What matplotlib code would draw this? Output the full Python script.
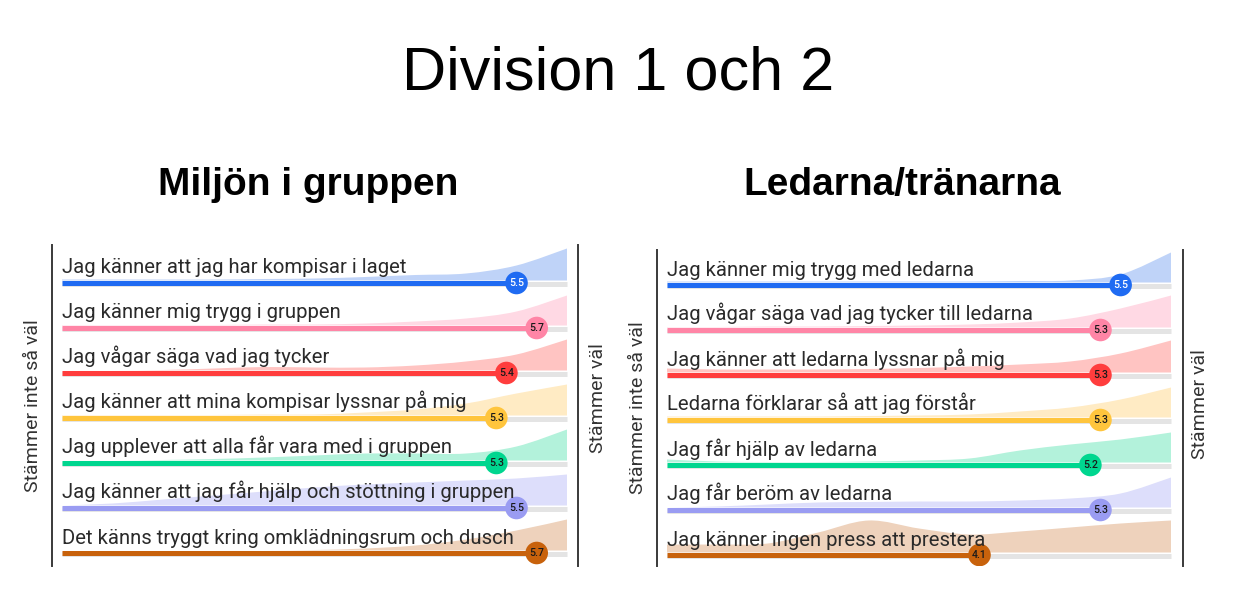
import matplotlib
matplotlib.use('Agg')
import matplotlib.pyplot as plt
from matplotlib.path import Path
from matplotlib.patches import PathPatch

# Data (scale 1-6)
grid = [1, 1.5, 2, 2.5, 3, 3.5, 4, 4.5, 5, 5.5, 6]

left_labels = ['Jag känner att jag har kompisar i laget',
               'Jag känner mig trygg i gruppen',
               'Jag vågar säga vad jag tycker',
               'Jag känner att mina kompisar lyssnar på mig',
               'Jag upplever att alla får vara med i gruppen',
               'Jag känner att jag får hjälp och stöttning i gruppen',
               'Det känns tryggt kring omklädningsrum och dusch']
left_values = [5.5, 5.7, 5.4, 5.3, 5.3, 5.5, 5.7]
# answer distribution height (px) at each grid point
left_dist = [[1, 1, 1, 1, 1.5, 2, 3.5, 5.5, 7, 15, 32],
             [0.5, 0.5, 0.5, 0.5, 1, 1, 2, 4, 7, 14, 30],
             [0, 0, 0.5, 2, 3.5, 3, 3, 5, 9, 16, 31],
             [0.5, 0.5, 0.5, 0.5, 1, 1, 3, 6, 12, 22, 31],
             [0, 0, 0.5, 1.5, 3, 5, 7, 7, 7, 14, 31],
             [0, 2, 6, 10, 14, 18, 21, 23, 25, 27, 31],
             [0, 0, 0, 0, 0, 0.5, 2, 5, 11, 20, 31]]

right_labels = ['Jag känner mig trygg med ledarna',
                'Jag vågar säga vad jag tycker till ledarna',
                'Jag känner att ledarna lyssnar på mig',
                'Ledarna förklarar så att jag förstår',
                'Jag får hjälp av ledarna',
                'Jag får beröm av ledarna',
                'Jag känner ingen press att prestera']
right_values = [5.5, 5.3, 5.3, 5.3, 5.2, 5.3, 4.1]
right_dist = [[1, 1, 1, 1, 1, 1, 1, 1.5, 2, 8, 30],
              [0.5, 0.5, 1, 1, 1.5, 2, 3, 5, 9, 19, 32],
              [4, 3, 3, 3, 3.5, 4.5, 6, 8, 11, 19, 32],
              [1, 1, 1, 1, 1.5, 2, 3, 6, 10, 18, 30],
              [3, 1, 0.5, 0.5, 1, 2, 4, 12, 18, 23, 30],
              [0, 1, 3, 5, 5.5, 6, 6, 7, 9, 14, 30],
              [8, 8, 9, 20, 32, 24, 18, 21, 25, 29, 32]]

colors = ['#1F6BF2', '#FF85A6', '#FF3D3D', '#FFC53D', '#00D68F', '#9A9CF2', '#C8620C']
fills = ['#BFD3F8', '#FFD9E4', '#FFC4C2', '#FFEBC4', '#B3F2DB', '#DDDEFB', '#EED2BC']
num_colors = ['white', '#1a1a1a', '#1a1a1a', '#1a1a1a', '#1a1a1a', '#1a1a1a', '#1a1a1a']

W, H = 1236, 592
ROW = 45.0  # px between rows


def smooth_area(ax, xs, base, heights, color):
    # smooth closed outline through the points (Catmull-Rom as cubic Beziers)
    pts = [(x, base - h / ROW) for x, h in zip(xs, heights)]
    verts = [(xs[0], base), pts[0]]
    codes = [Path.MOVETO, Path.LINETO]
    n = len(pts)
    for k in range(n - 1):
        p0 = pts[k - 1] if k > 0 else pts[k]
        p1, p2 = pts[k], pts[k + 1]
        p3 = pts[k + 2] if k + 2 < n else pts[k + 1]
        c1 = (p1[0] + (p2[0] - p0[0]) / 6, p1[1] + (p2[1] - p0[1]) / 6)
        c2 = (p2[0] - (p3[0] - p1[0]) / 6, p2[1] - (p3[1] - p1[1]) / 6)
        verts += [c1, c2, p2]
        codes += [Path.CURVE4] * 3
    verts += [(xs[-1], base), (xs[0], base)]
    codes += [Path.LINETO, Path.CLOSEPOLY]
    ax.add_patch(PathPatch(Path(verts, codes), facecolor=color, edgecolor='none', zorder=1))


def panel(px_left, px_right, px_top, px_bottom, track0, track1, row0, labels, values, dist):
    unit = (track1 - track0) / 5.0
    ax = fig.add_axes([px_left / W, 1 - px_bottom / H, (px_right - px_left) / W, (px_bottom - px_top) / H])
    ax.set_xlim(1 - (track0 - px_left) / unit, 6 + (px_right - track1) / unit)
    ax.set_ylim(6 + (px_bottom - (row0 + 6 * ROW)) / ROW, -(row0 - px_top) / ROW)
    for i, (lab, v, d) in enumerate(zip(labels, values, dist)):
        smooth_area(ax, grid, i - 2.5 / ROW, d, fills[i])
        ax.plot([1, 6], [i + 0.8 / ROW, i + 0.8 / ROW], color='#E4E4E4', lw=3.6,
                solid_capstyle='butt', zorder=2)
        ax.plot([1, v], [i, i], color=colors[i], lw=3.6, solid_capstyle='butt', zorder=3)
        ax.scatter([v], [i], s=265, color=colors[i], edgecolors='none', zorder=4)
        ax.text(v, i, f'{v:.1f}', ha='center', va='center', fontsize=7.6,
                fontweight='medium', color=num_colors[i], family='Roboto', zorder=5)
        ax.text(1, i - 9.5 / ROW, lab, ha='left', va='baseline', fontsize=14.6,
                color='#2a2a2a', family='Roboto', zorder=6)
    ax.set_xticks([])
    ax.set_yticks([])
    ax.patch.set_visible(False)
    ax.spines['top'].set_visible(False)
    ax.spines['bottom'].set_visible(False)
    for s in ('left', 'right'):
        ax.spines[s].set_color('#3a3a3a')
        ax.spines[s].set_linewidth(1.4)
    return ax


fig = plt.figure(figsize=(W / 100, H / 100), dpi=100)

fig.text(618 / W, 1 - 90 / H, 'Division 1 och 2', ha='center', va='baseline',
         fontsize=44, family='Liberation Sans', color='black')
fig.text(308 / W, 1 - 195 / H, 'Miljön i gruppen', ha='center', va='baseline',
         fontsize=28, fontweight='bold', family='Liberation Sans', color='black')
fig.text(902 / W, 1 - 195 / H, 'Ledarna/tränarna', ha='center', va='baseline',
         fontsize=28, fontweight='bold', family='Liberation Sans', color='black')

panel(52, 578, 245, 566, 62, 567, 283, left_labels, left_values, left_dist)
panel(657, 1183, 250, 566, 667, 1171, 285, right_labels, right_values, right_dist)

for x, y, t in [(33, 406, 'Stämmer inte så väl'), (598, 398, 'Stämmer väl'),
                (638, 408, 'Stämmer inte så väl'), (1200, 404, 'Stämmer väl')]:
    fig.text(x / W, 1 - y / H, t, rotation=90, ha='center', va='center',
             fontsize=14, family='Roboto', color='#333333')

fig.savefig('out.png', dpi=100)
